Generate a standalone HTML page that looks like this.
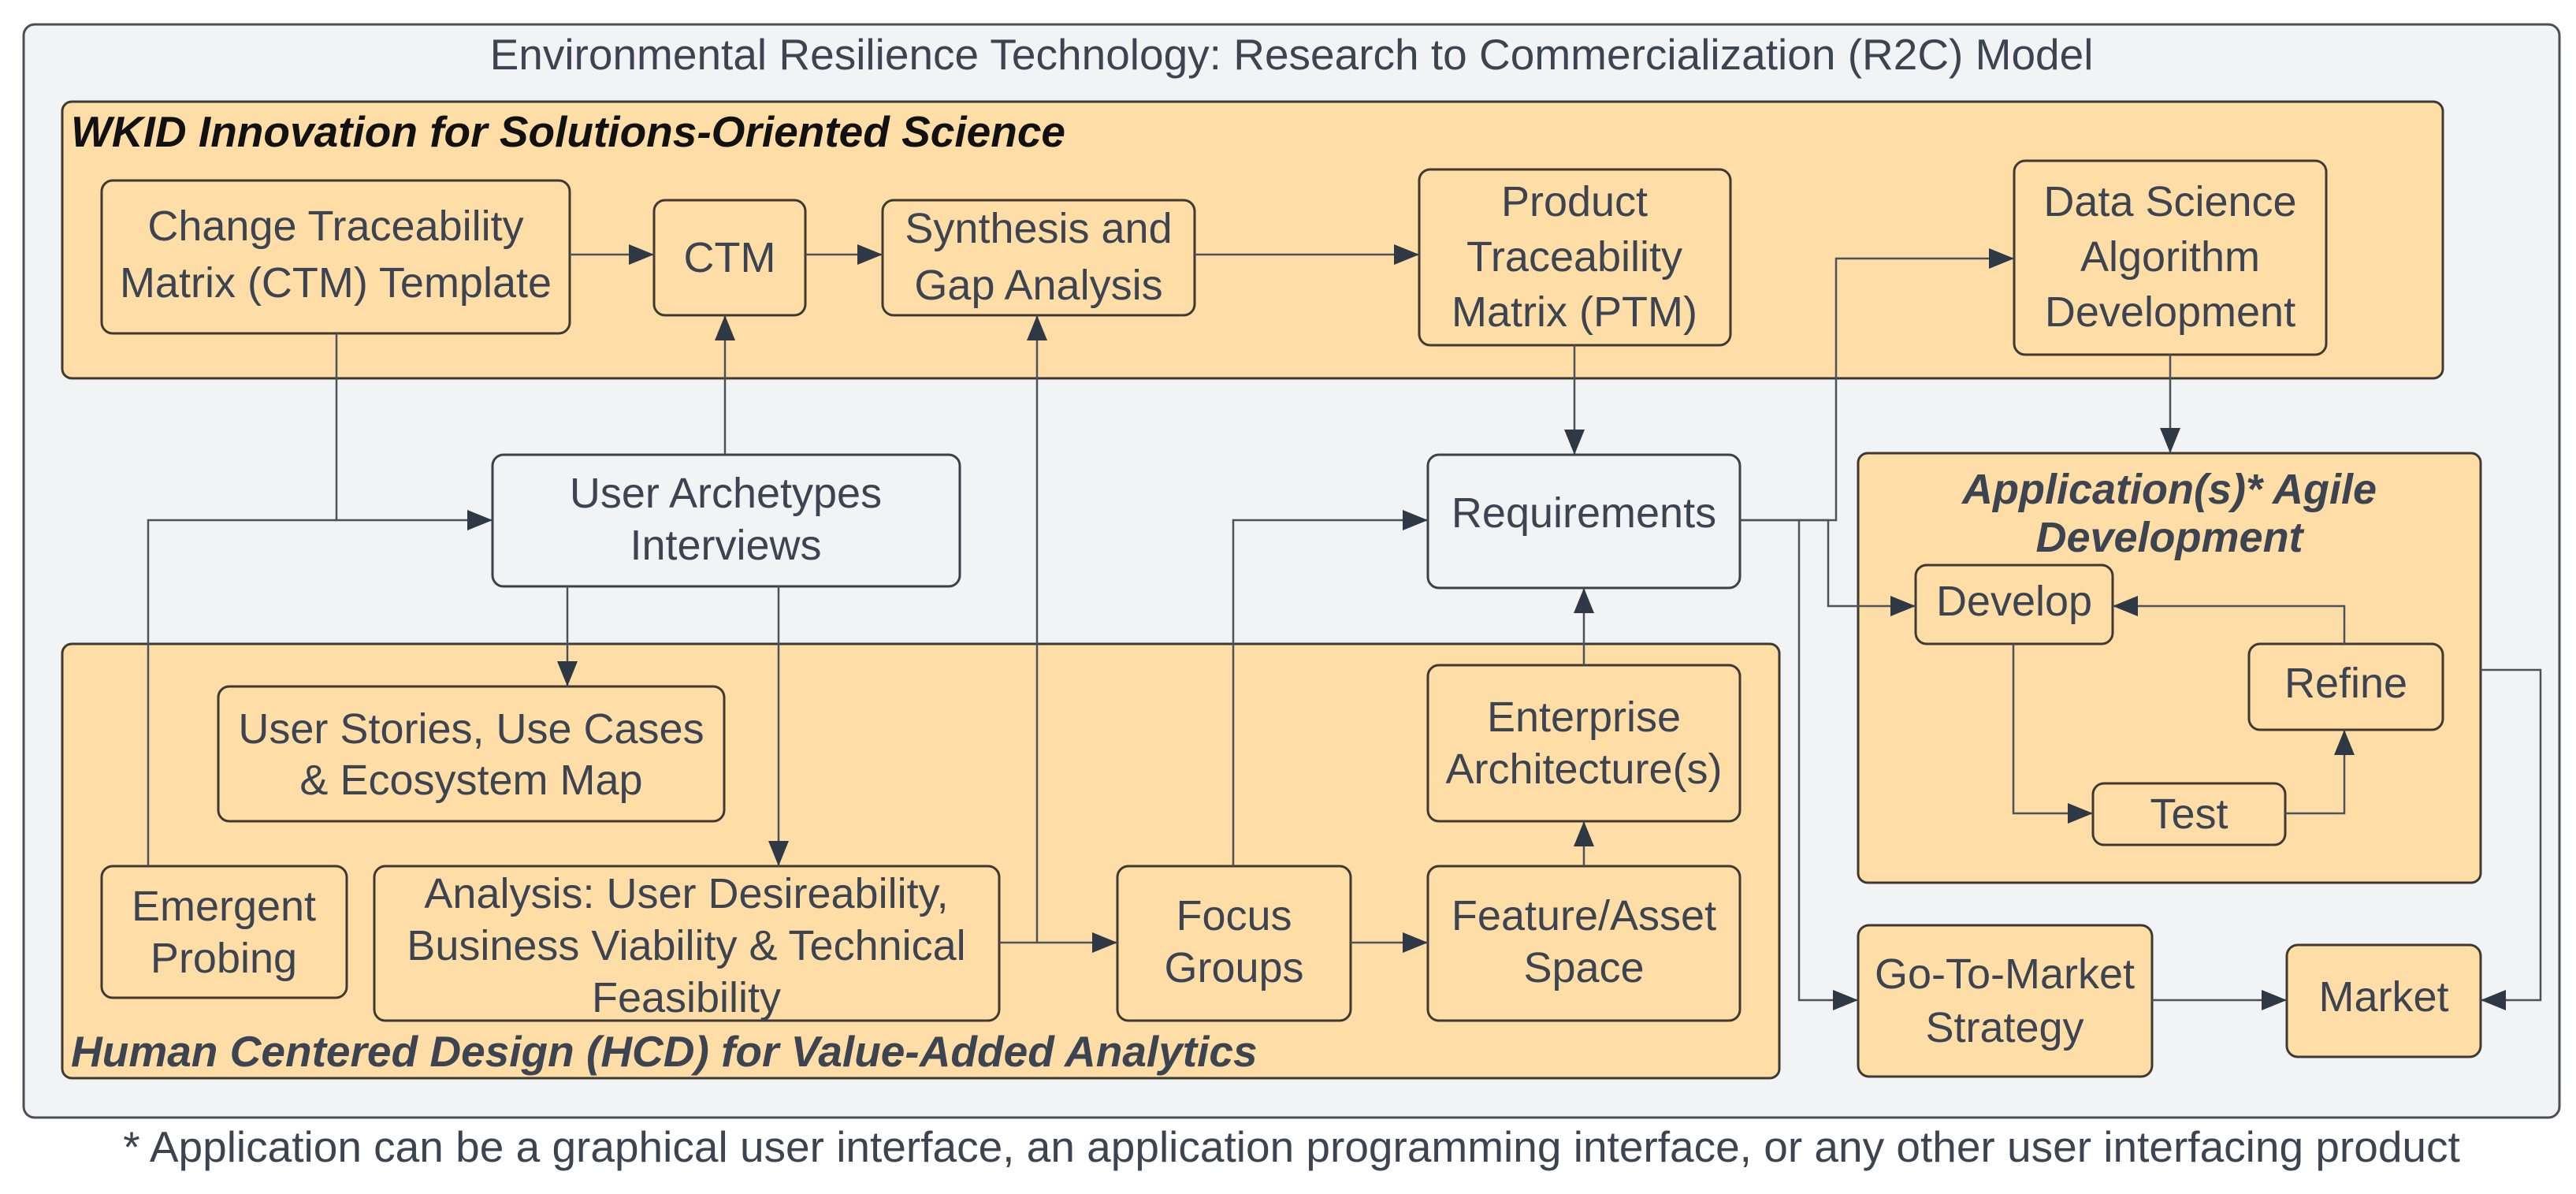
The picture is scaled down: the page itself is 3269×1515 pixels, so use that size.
<!DOCTYPE html>
<html><head><meta charset="utf-8"><style>
html,body{margin:0;padding:0;background:#fff;}
svg{display:block;}
text{font-family:"Liberation Sans",sans-serif;fill:#3b4450;}
</style></head><body>
<svg width="3269" height="1515" viewBox="0 0 3269 1515" xmlns="http://www.w3.org/2000/svg">
<defs>
<marker id="a" markerUnits="userSpaceOnUse" markerWidth="34" markerHeight="28" refX="32" refY="13" orient="auto">
<path d="M0,0 L32,13 L0,26 Z" fill="#2f3945"/>
</marker>
</defs>
<rect x="0" y="0" width="3269" height="1515" fill="#fff"/>
<rect x="30" y="31" width="3218" height="1387" rx="14" fill="#f2f3f5" stroke="#4a4f55" stroke-width="3"/>
<text x="1639" y="69" font-size="55" text-anchor="middle" dominant-baseline="central">Environmental Resilience Technology: Research to Commercialization (R2C) Model</text>

<g stroke="#3e3a33" stroke-width="3" fill="#fedda6">
<rect x="79" y="129" width="3021" height="351" rx="12"/>
<rect x="79" y="817" width="2179" height="551" rx="12"/>
<rect x="2358" y="575" width="790" height="545" rx="12"/>
<rect x="129" y="229" width="594" height="194" rx="14"/>
<rect x="830" y="254" width="192" height="146" rx="14"/>
<rect x="1120" y="254" width="396" height="146" rx="14"/>
<rect x="1801" y="215" width="395" height="223" rx="14"/>
<rect x="2556" y="204" width="396" height="246" rx="14"/>
<rect x="2431" y="717" width="250" height="100" rx="14"/>
<rect x="2854" y="817" width="246" height="109" rx="14"/>
<rect x="2656" y="994" width="244" height="78" rx="14"/>
<rect x="277" y="871" width="642" height="171" rx="14"/>
<rect x="129" y="1099" width="311" height="167" rx="14"/>
<rect x="475" y="1099" width="793" height="196" rx="14"/>
<rect x="1418" y="1099" width="296" height="196" rx="14"/>
<rect x="1812" y="1099" width="396" height="196" rx="14"/>
<rect x="1812" y="844" width="396" height="198" rx="14"/>
<rect x="2358" y="1174" width="373" height="192" rx="14"/>
<rect x="2902" y="1199" width="246" height="142" rx="14"/>
</g>
<g stroke="#3a414a" stroke-width="3" fill="#f2f3f5">
<rect x="1812" y="577" width="396" height="169" rx="14"/>
<rect x="625" y="577" width="593" height="167" rx="14"/>
</g>

<text x="90" y="167" font-size="55" font-weight="bold" font-style="italic" dominant-baseline="central" style="fill:#111">WKID Innovation for Solutions-Oriented Science</text>
<text x="90" y="1334" font-size="55" font-weight="bold" font-style="italic" dominant-baseline="central">Human Centered Design (HCD) for Value-Added Analytics</text>
<g font-size="54" font-weight="bold" font-style="italic" text-anchor="middle" dominant-baseline="central">
<text x="2753" y="621">Application(s)* Agile</text>
<text x="2753" y="682">Development</text>
</g>

<g font-size="54" text-anchor="middle" dominant-baseline="central">
<text x="426" y="287">Change Traceability</text>
<text x="426" y="359">Matrix (CTM) Template</text>
<text x="926" y="327">CTM</text>
<text x="1318" y="290">Synthesis and</text>
<text x="1318" y="362">Gap Analysis</text>
<text x="1998" y="256">Product</text>
<text x="1998" y="326">Traceability</text>
<text x="1998" y="396">Matrix (PTM)</text>
<text x="2754" y="256">Data Science</text>
<text x="2754" y="326">Algorithm</text>
<text x="2754" y="396">Development</text>
<text x="2010" y="651">Requirements</text>
<text x="921" y="626">User Archetypes</text>
<text x="921" y="692">Interviews</text>
<text x="2556" y="763">Develop</text>
<text x="2977" y="867">Refine</text>
<text x="2778" y="1033">Test</text>
<text x="598" y="925">User Stories, Use Cases</text>
<text x="598" y="990">&amp; Ecosystem Map</text>
<text x="284" y="1150">Emergent</text>
<text x="284" y="1216">Probing</text>
<text x="871" y="1134">Analysis: User Desireability,</text>
<text x="871" y="1200">Business Viability &amp; Technical</text>
<text x="871" y="1266">Feasibility</text>
<text x="1566" y="1162">Focus</text>
<text x="1566" y="1228">Groups</text>
<text x="2010" y="1162">Feature/Asset</text>
<text x="2010" y="1228">Space</text>
<text x="2010" y="910">Enterprise</text>
<text x="2010" y="976">Architecture(s)</text>
<text x="2544" y="1236">Go-To-Market</text>
<text x="2544" y="1304">Strategy</text>
<text x="3025" y="1265">Market</text>
</g>

<g stroke="#4a525c" stroke-width="2.5" fill="none" marker-end="url(#a)">
<path d="M723,323 H830"/>
<path d="M1022,323 H1120"/>
<path d="M1516,323 H1801"/>
<path d="M427,423 V660 H625"/>
<path d="M920,577 V400"/>
<path d="M720,744 V871"/>
<path d="M988,744 V1099"/>
<path d="M1268,1196 H1418"/>
<path d="M1316,1196 V400"/>
<path d="M1565,1099 V660 H1812"/>
<path d="M1714,1196 H1812"/>
<path d="M2010,1099 V1042"/>
<path d="M2010,844 V746"/>
<path d="M1998,438 V577"/>
<path d="M2754,450 V575"/>
<path d="M2208,660 H2330 V328 H2556"/>
<path d="M2208,660 H2283 V1269 H2358"/>
<path d="M2283,660 H2320 V769 H2431"/>
<path d="M2555,817 V1032 H2656"/>
<path d="M2900,1032 H2975 V926"/>
<path d="M2975,817 V769 H2681"/>
<path d="M3148,850 H3224 V1269 H3148"/>
<path d="M2731,1269 H2902"/>
</g>
<path d="M188,1099 V660 H427" stroke="#4a525c" stroke-width="2.5" fill="none"/>

<text x="1639" y="1455" font-size="55" text-anchor="middle" dominant-baseline="central">* Application can be a graphical user interface, an application programming interface, or any other user interfacing product</text>
</svg>
</body></html>
